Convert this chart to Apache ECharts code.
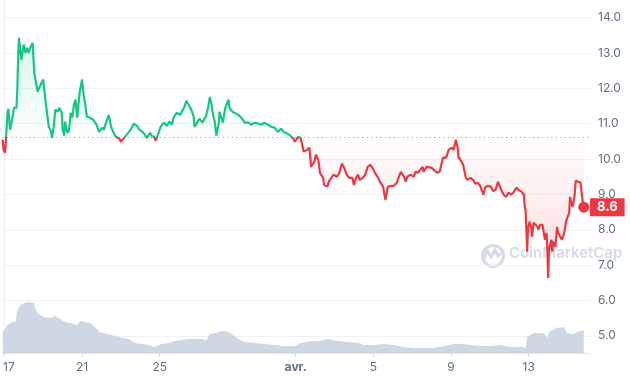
<!DOCTYPE html>
<html>
<head>
<meta charset="utf-8">
<script src="https://cdn.jsdelivr.net/npm/echarts@6/dist/echarts.min.js"></script>
<style>html,body{margin:0;padding:0;background:#fff;}#c{width:630px;height:380px;}</style>
</head>
<body>
<div id="c"></div>
<script>
// Hours since 17 March 00:00
const priceHours = [-2,-1,1,2,4,5,7,10,12,15,16,17,18,21,24,26,28,30,32,35,37,39,41,43,46,48,50,53,55,57,59,61,63,66,68,71,72,74,75,78,80,82,84,86,88,90,93,96,98,100,102,106,110,114,117,121,
123,126,129,132,135,138,142,144,148,150,154,156,160,164,167,172,176,180,182,185,187,191,193,197,201,204,207,209,213,217,219,222,225,229,231,234,235,239,241,245,247,
249,252,254,256,258,260,262,265,266,267,270,273,277,278,282,284,289,293,297,302,305,309,314,318,321,326,330,334,338,342,345,348,352,357,359,363,366,368,370,
374,377,379,383,385,388,390,394,395,399,401,405,407,411,414,417,420,423,426,430,432,434,437,439,443,446,449,452,455,458,462,464,468,469,471,474,476,481,485,487,490,
494,496,498,502,506,508,511,514,517,518,522,524,528,530,535,538,542,544,546,549,553,555,558,560,561,565,567,570,572,576,580,582,585,588,592,594,597,601,604,607,610,614,
617,620,623,626,629,633,635,639,642,643,644,645,646,647,649,651,652,654,656,659,660,662,665,666,668,670,671,672,673,676,677,678,681,683,684,687,689,692,694,695,698,699,702,703,705,706,709,712,714,715,716];
const prices = [10.55,10.26,10.18,10.21,11.34,11.42,10.83,11.17,11.45,11.45,11.96,12.81,13.43,12.81,13.24,13.01,13.15,13.01,13.15,13.29,12.44,12.39,11.91,11.91,12.16,12.25,11.82,11.25,10.91,10.83,10.60,10.91,11.40,11.34,11.45,11.31,10.83,10.66,11.06,10.74,10.83,11.31,11.17,11.54,11.68,11.17,11.88,12.25,11.82,11.54,11.20,11.17,11.11,10.97,10.77,10.89,
10.83,11.06,11.25,10.91,10.74,10.63,10.58,10.49,10.60,10.63,10.77,10.83,11.00,10.94,10.83,10.74,10.60,10.74,10.66,10.63,10.52,10.77,10.91,11.03,10.94,11.06,10.97,11.17,11.31,11.25,11.20,11.45,11.65,11.48,11.40,11.20,10.91,11.06,11.14,11.03,11.14,
11.20,11.48,11.76,11.54,11.25,11.06,10.66,11.03,11.34,11.25,11.03,11.45,11.68,11.45,11.34,11.31,11.25,11.17,11.03,11.03,10.97,11.03,11.00,10.97,11.03,10.97,10.91,10.89,10.77,10.86,10.77,10.74,10.69,10.58,10.49,10.63,10.60,10.41,10.21,
10.26,10.32,9.78,9.92,10.12,9.98,9.61,9.47,9.27,9.22,9.36,9.50,9.56,9.50,9.61,9.87,9.75,9.56,9.47,9.47,9.27,9.44,9.56,9.41,9.47,9.56,9.78,9.84,9.75,9.61,9.47,9.36,9.22,9.08,8.85,9.22,9.27,9.24,9.33,9.47,9.64,
9.50,9.36,9.50,9.56,9.50,9.64,9.61,9.70,9.78,9.64,9.78,9.78,9.75,9.70,9.61,9.64,10.04,10.07,10.04,10.26,10.32,10.26,10.55,10.35,10.07,9.92,9.84,9.50,9.41,9.47,9.39,9.30,9.33,9.24,8.99,9.19,9.24,9.22,9.10,9.13,9.36,9.13,
8.99,8.93,9.05,8.99,9.05,9.19,9.13,9.08,8.99,8.65,8.57,8.08,7.38,8.00,8.23,8.08,7.80,8.20,8.23,8.08,8.00,8.14,8.14,8.00,7.72,7.91,7.43,6.64,7.43,7.72,7.38,7.66,7.52,8.08,7.94,7.80,7.72,7.91,8.23,8.20,8.48,8.93,8.65,8.71,9.05,9.39,9.36,9.33,9.33,8.71,8.64];

const volumeHours = [-2,4,10,14,16,20,25,31,37,38,41,44,50,57,63,69,75,81,90,94,100,106,112,118,127,137,145,154,161,170,178,186,194,203,210,219,228,235,244,250,254,262,268,274,281,289,297,309,321,334,346,358,367,379,388,400,412,425,437,444,457,469,481,494,506,518,530,543,555,564,576,588,601,613,625,638,644,646,654,666,671,673,683,692,695,702,709,716];
const volumes = [43,57,63,63,87,97,101,103,101,91,81,77,73,71,75,69,63,61,57,65,63,61,53,43,39,35,31,29,21,19,17,13,19,21,25,27,29,29,29,27,39,41,45,45,39,29,23,21,19,17,15,15,21,25,25,29,25,23,21,17,17,19,17,13,11,11,11,15,19,19,17,15,15,17,13,13,11,33,41,41,31,43,51,53,41,39,43,47];

const referencePrice = 10.62;
const yTicks = [5,6,7,8,9,10,11,12,13,14];
const xTickHours = [0,96,192,360,456,552,648];
const xTickLabels = ['17','21','25','avr.','5','9','13'];

const GREEN = '#16c784', RED = '#ea3943';
const priceData = priceHours.map((h, i) => [h, prices[i]]);
const volData = volumeHours.map((h, i) => [h, volumes[i]]);
const maxP = Math.max(...prices), minP = Math.min(...prices);
const stopBase = (maxP - referencePrice) / (maxP - minP);
const last = priceData[priceData.length - 1];

const chart = echarts.init(document.getElementById('c'), null, {renderer: 'canvas'});
chart.setOption({
  animation: false,
  backgroundColor: '#fff',
  grid: {left: 0, right: 40, top: 0, bottom: 26.5},
  textStyle: {fontFamily: 'Inter'},
  xAxis: {
    type: 'value', min: -2.5, max: 723.7,
    axisLine: {show: true, lineStyle: {color: '#e3e7ed'}},
    axisTick: {show: true, length: 3, customValues: xTickHours, lineStyle: {color: '#cfd6e4'}},
    splitLine: {show: false},
    axisLabel: {
      customValues: xTickHours, color: '#616e85', fontSize: 12, margin: 8, fontFamily: 'Inter',
      formatter: v => {
        const i = xTickHours.indexOf(v);
        const t = i >= 0 ? xTickLabels[i] : '';
        if (t === 'avr.') return '{b|' + t + '}';
        if (i === 0) return '{f|' + t + '}';
        return t;
      },
      rich: {b: {fontWeight: 'bold', color: '#616e85', fontSize: 12, fontFamily: 'Inter'},
             f: {padding: [0, 0, 0, 9], color: '#616e85', fontSize: 12, fontFamily: 'Inter'}}
    }
  },
  yAxis: [{
    type: 'value', position: 'right', min: 4.5, max: 14.5,
    axisLine: {show: true, lineStyle: {color: '#eceff3'}},
    axisTick: {show: false, customValues: yTicks},
    splitLine: {show: true, lineStyle: {color: '#eff2f5'}},
    axisLabel: {customValues: yTicks, color: '#616e85', fontSize: 12, margin: 8, fontFamily: 'Inter',
      formatter: v => v.toFixed(1)}
  }, {
    type: 'value', min: 0, max: 707, show: false
  }],
  graphic: [
    {type: 'circle', left: 480, top: 243, z: -1, shape: {r: 10.5},
     style: {fill: 'none', stroke: '#d5dbe6', lineWidth: 3}},
    {type: 'polyline', z: -1, shape: {points: [[484,259],[487,250],[491,257],[495,250],[498,256],[501,253]]},
     style: {fill: 'none', stroke: '#d5dbe6', lineWidth: 3}},
    {type: 'text', left: 509, top: 246, z: -1,
     style: {text: 'CoinMarketCap', fill: '#d5dbe6', font: '600 15px Inter'}}
  ],
  series: [{
    type: 'line', data: priceData, showSymbol: false, symbol: 'none', z: 3,
    lineStyle: {width: 2.2, color: new echarts.graphic.LinearGradient(0, 0, 0, 1, [
      {offset: 0, color: GREEN}, {offset: stopBase, color: GREEN},
      {offset: stopBase, color: RED}, {offset: 1, color: RED}
    ])},
    areaStyle: {
      origin: referencePrice,
      color: new echarts.graphic.LinearGradient(0, 0, 0, 1, [
        {offset: 0, color: 'rgba(22,199,132,0.24)'},
        {offset: stopBase, color: 'rgba(22,199,132,0.02)'},
        {offset: stopBase, color: 'rgba(234,57,67,0.02)'},
        {offset: 1, color: 'rgba(234,57,67,0.26)'}
      ])
    },
    markLine: {
      silent: true, symbol: 'none',
      data: [
        {yAxis: referencePrice, label: {show: false},
         lineStyle: {color: '#8d96a6', type: [1, 3.5], width: 1}},
        {yAxis: last[1], lineStyle: {color: 'rgba(0,0,0,0)', width: 0},
         label: {show: true, position: 'end', distance: 0, formatter: () => last[1].toFixed(1),
           color: '#fff', backgroundColor: RED, fontWeight: 'bold', fontSize: 13, fontFamily: 'Inter',
           lineHeight: 14, padding: [2, 7, 2, 7], opacity: 1}}
      ]
    }
  }, {
    type: 'line', yAxisIndex: 1, data: volData, showSymbol: false, symbol: 'none', z: 1,
    lineStyle: {width: 0}, areaStyle: {color: '#cfd6e4', opacity: 1}
  }, {
    type: 'scatter', data: [last], symbolSize: 11, z: 5,
    itemStyle: {color: RED, opacity: 1}
  }]
});
</script>
</body>
</html>
